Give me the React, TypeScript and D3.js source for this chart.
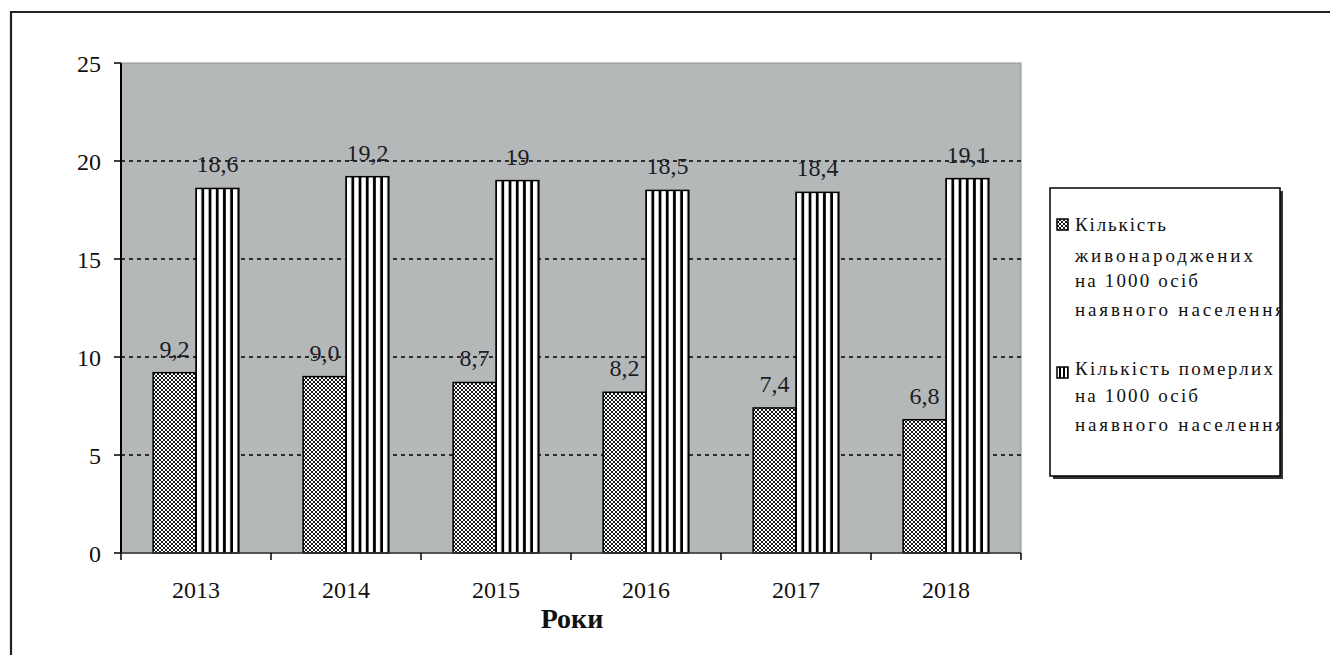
import React from "react";
import * as d3 from "d3";

const years = ["2013", "2014", "2015", "2016", "2017", "2018"];
const births = [9.2, 9.0, 8.7, 8.2, 7.4, 6.8];
const deaths = [18.6, 19.2, 19, 18.5, 18.4, 19.1];
const birthLabels = ["9,2", "9,0", "8,7", "8,2", "7,4", "6,8"];
const deathLabels = ["18,6", "19,2", "19", "18,5", "18,4", "19,1"];
const yTicks = [0, 5, 10, 15, 20, 25];
const gridTicks = [5, 10, 15, 20];
const legendBirth = ["Кількість", "живонароджених", "на 1000 осіб", "наявного населення"];
const legendDeath = ["Кількість померлих", "на 1000 осіб", "наявного населення"];

const W = 1330;
const H = 655;
const left = 121;
const right = 1021;
const top = 63;
const bottom = 553;
const FONT = "Liberation Serif";

// layout of the legend lines: baseline y and spread width
const birthLineY = [231, 262, 287, 316];
const birthLineW = [91, 178, 123, 209];
const deathLineY = [375, 402, 431];
const deathLineW = [198, 123, 209];

export default function App() {
  const x = d3.scaleBand<string>().domain(years).range([left, right]).padding(0);
  const x1 = d3
    .scaleBand<string>()
    .domain(["b", "d"])
    .range([0, x.step()])
    .paddingInner(0)
    .paddingOuter(0.75);
  const y = d3.scaleLinear().domain([0, 25]).range([bottom, top]);
  const bw = x1.bandwidth();
  const boundaries = d3.range(years.length + 1).map((i) => left + i * x.step());

  return (
    <svg width={W} height={H} style={{ position: "absolute", left: 0, top: 0, background: "#fff" }}>
      <defs>
        <pattern id="cross" patternUnits="userSpaceOnUse" width={4} height={4}>
          <rect width={4} height={4} fill="#fff" />
          <path d="M0,0 L4,4 M4,0 L0,4" stroke="#000" strokeWidth={0.9} />
        </pattern>
        {years.map((yr, i) => {
          const bx = (x(yr) as number) + (x1("d") as number);
          return (
            <pattern key={yr} id={`stripe${i}`} patternUnits="userSpaceOnUse" x={bx + 1} y={0} width={7.2} height={10}>
              <rect width={7.2} height={10} fill="#fff" />
              <rect x={4.4} width={2.8} height={10} fill="#000" />
            </pattern>
          );
        })}
        <pattern id="stripeL" patternUnits="userSpaceOnUse" x={1057} y={0} width={4} height={10}>
          <rect width={4} height={10} fill="#fff" />
          <rect x={2} width={2} height={10} fill="#000" />
        </pattern>
        <clipPath id="legclip">
          <rect x={1050} y={188} width={231} height={289} />
        </clipPath>
      </defs>

      {/* outer frame */}
      <path d={`M11,${H} L11,12 L${W},12`} fill="none" stroke="#222" strokeWidth={2.2} />

      {/* plot area */}
      <rect x={left} y={top} width={right - left} height={bottom - top} fill="#b5b8b9" stroke="#8f9293" strokeWidth={1} />

      {gridTicks.map((t) => (
        <line key={t} x1={left} x2={right} y1={y(t)} y2={y(t)} stroke="#000" strokeWidth={1.3} strokeDasharray="4,4" />
      ))}

      {/* bars */}
      {years.map((yr, i) => {
        const gx = x(yr) as number;
        const bx = gx + (x1("b") as number);
        const dx = gx + (x1("d") as number);
        return (
          <g key={yr}>
            <rect x={bx} y={y(births[i])} width={bw} height={bottom - y(births[i])} fill="url(#cross)" stroke="#000" strokeWidth={1.5} />
            <rect x={dx} y={y(deaths[i])} width={bw} height={bottom - y(deaths[i])} fill={`url(#stripe${i})`} stroke="#000" strokeWidth={1.5} />
          </g>
        );
      })}

      {/* data labels */}
      {years.map((yr, i) => {
        const gx = x(yr) as number;
        const bx = gx + (x1("b") as number) + bw / 2;
        const dx = gx + (x1("d") as number) + bw / 2;
        return (
          <g key={yr} fontFamily={FONT} fontSize={24} fill="#1c1c24" textAnchor="middle">
            <text x={bx} y={y(births[i]) - 16}>{birthLabels[i]}</text>
            <text x={dx} y={y(deaths[i]) - 16}>{deathLabels[i]}</text>
          </g>
        );
      })}

      {/* y axis */}
      <line x1={left} x2={left} y1={top} y2={bottom} stroke="#000" strokeWidth={2} />
      {yTicks.map((t) => (
        <g key={t}>
          <line x1={left - 7} x2={left} y1={y(t)} y2={y(t)} stroke="#000" strokeWidth={1.5} />
          <text x={101} y={y(t) + 9} textAnchor="end" fontFamily={FONT} fontSize={24} fill="#111">
            {t}
          </text>
        </g>
      ))}

      {/* x axis */}
      <line x1={left} x2={right} y1={bottom} y2={bottom} stroke="#333" strokeWidth={1.3} />
      {boundaries.map((bx, i) => (
        <line key={i} x1={bx} x2={bx} y1={bottom} y2={bottom + 7} stroke="#000" strokeWidth={1.5} />
      ))}
      {years.map((yr) => (
        <text key={yr} x={(x(yr) as number) + x.bandwidth() / 2} y={598} textAnchor="middle" fontFamily={FONT} fontSize={24} fill="#111">
          {yr}
        </text>
      ))}
      <text x={572} y={628} textAnchor="middle" fontFamily={FONT} fontSize={28} fontWeight="bold" fill="#111">
        Роки
      </text>

      {/* legend */}
      <rect x={1053} y={191} width={230} height={288} fill="#333" />
      <rect x={1050} y={188} width={230} height={288} fill="#fff" stroke="#000" strokeWidth={1.5} />
      <g clipPath="url(#legclip)" fill="#111" fontFamily={FONT} fontSize={19}>
        <rect x={1057} y={219} width={11} height={11} fill="url(#cross)" stroke="#000" strokeWidth={1.5} />
        <rect x={1057} y={367} width={11} height={11} fill="url(#stripeL)" stroke="#000" strokeWidth={1.5} />
        {legendBirth.map((s, i) => (
          <text key={s} x={1075} y={birthLineY[i]} textLength={birthLineW[i]} lengthAdjust="spacing">{s}</text>
        ))}
        {legendDeath.map((s, i) => (
          <text key={s + i} x={1075} y={deathLineY[i]} textLength={deathLineW[i]} lengthAdjust="spacing">{s}</text>
        ))}
      </g>
    </svg>
  );
}
